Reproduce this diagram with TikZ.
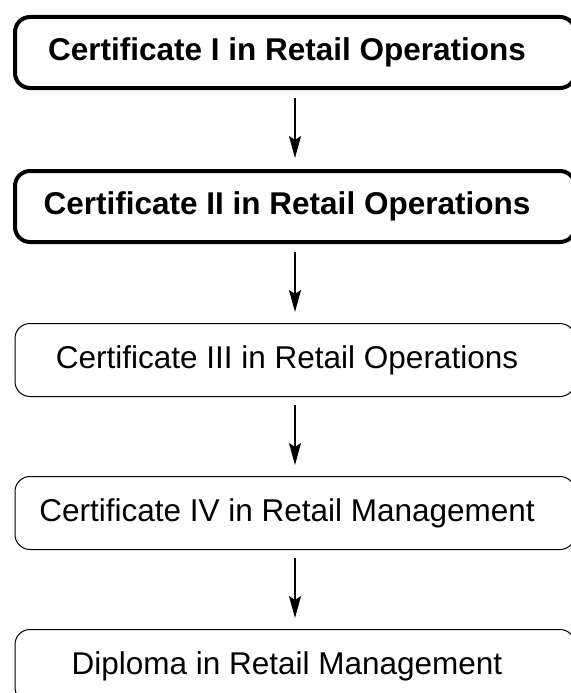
\documentclass[tikz,border=0pt]{standalone}
\usepackage{fontspec}
\setmainfont{Liberation Sans}
\usetikzlibrary{positioning,arrows.meta}

\tikzset{
    course/.style={rectangle, rounded corners=15pt, draw=black, line width=1pt,
        minimum width=560pt, minimum height=73pt,
        font=\fontsize{31.5pt}{36pt}\selectfont},
    core/.style={course, line width=4pt, minimum height=71pt,
        font=\fontsize{31.5pt}{36pt}\selectfont\bfseries},
    pathway/.style={-{Stealth[length=22pt,width=12pt,inset=4pt]}, line width=1.5pt,
        shorten <=8pt, shorten >=11pt}
}

\begin{document}
\begin{tikzpicture}[node distance=79pt]
        \useasboundingbox (0,0) rectangle (570pt,-693pt);

        \node[core] (certone) at (295pt,-52.5pt) {\hspace*{-16pt}Certificate I in Retail Operations};
        \node[core] (certtwo) [below=of certone] {\hspace*{-16pt}Certificate II in Retail Operations};
        \node[course] (certthree) [below=of certtwo] {\hspace*{-16pt}Certificate III in Retail Operations};
        \node[course] (certfour) [below=of certthree] {\hspace*{-16pt}Certificate IV in Retail Management};
        \node[course] (diploma) [below=of certfour] {\hspace*{-16pt}Diploma in Retail Management};

        \draw[pathway] (certone.south) -- (certtwo.north);
        \draw[pathway] (certtwo.south) -- (certthree.north);
        \draw[pathway] (certthree.south) -- (certfour.north);
        \draw[pathway] (certfour.south) -- (diploma.north);
    \end{tikzpicture}
\end{document}
